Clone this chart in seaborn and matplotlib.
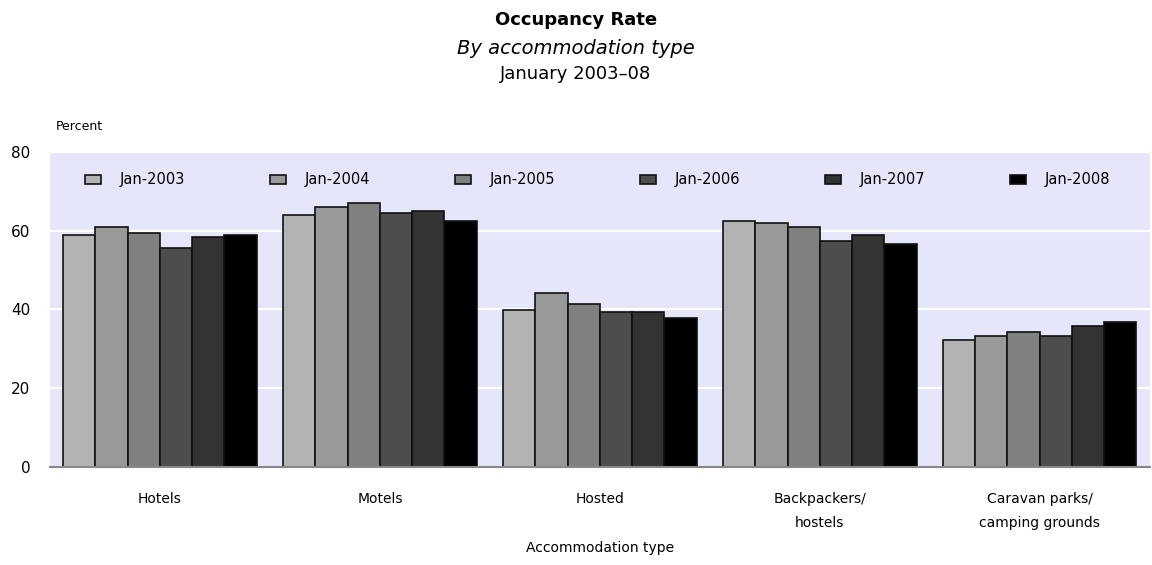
import pandas as pd
import matplotlib.pyplot as plt
import seaborn as sns

# Occupancy rate (%) by accommodation type, January of each year
categories = ['Hotels', 'Motels', 'Hosted', 'Backpackers/\nhostels',
              'Caravan parks/\ncamping grounds']
years = ['Jan-2003', 'Jan-2004', 'Jan-2005', 'Jan-2006', 'Jan-2007', 'Jan-2008']
jan_2003 = [58.9, 64.1, 39.8, 62.5, 32.2]
jan_2004 = [61.0, 66.0, 44.3, 62.0, 33.3]
jan_2005 = [59.4, 67.0, 41.4, 61.0, 34.3]
jan_2006 = [55.5, 64.5, 39.3, 57.4, 33.3]
jan_2007 = [58.4, 65.0, 39.3, 59.0, 35.8]
jan_2008 = [59.0, 62.5, 37.9, 56.6, 36.9]

series = [jan_2003, jan_2004, jan_2005, jan_2006, jan_2007, jan_2008]
rows = []
for yr, vals in zip(years, series):
    for cat, v in zip(categories, vals):
        rows.append({'type': cat, 'year': yr, 'rate': v})
df = pd.DataFrame(rows)

greys = ['#b3b3b3', '#999999', '#808080', '#4d4d4d', '#333333', '#000000']

sns.set_style('white')
plt.rcParams['font.family'] = ['DejaVu Sans']
plt.rcParams['text.color'] = 'black'
plt.rcParams['axes.labelcolor'] = 'black'
plt.rcParams['xtick.color'] = 'black'
plt.rcParams['ytick.color'] = 'black'

fig = plt.figure(figsize=(11.52, 5.65), dpi=100)
ax = fig.add_axes([0.0434, 0.1735, 0.9546, 0.5575])
ax.set_facecolor('#e6e6fa')

sns.barplot(data=df, x='type', y='rate', hue='year', hue_order=years,
            order=categories, palette=greys, width=0.88, edgecolor='#111111',
            linewidth=1.2, saturation=1, ax=ax)

ax.set_ylim(0, 80)
ax.set_yticks([0, 20, 40, 60, 80])
ax.yaxis.grid(True, color='white', linewidth=1.5)
ax.set_axisbelow(True)
for s in ['top', 'right', 'left']:
    ax.spines[s].set_visible(False)
ax.spines['bottom'].set_color('#888888')
ax.spines['bottom'].set_linewidth(1.5)
ax.tick_params(axis='both', length=0, labelsize=10)
ax.tick_params(axis='x', pad=18)
ax.tick_params(axis='y', pad=14, labelsize=11)
ax.set_xlabel('Accommodation type', fontsize=10, labelpad=8)
ax.set_ylabel('')
for lbl in ax.get_xticklabels():
    lbl.set_linespacing(1.9)

leg = ax.legend(loc='upper left', ncol=6, frameon=False, fontsize=10.5,
                bbox_to_anchor=(35 / 1100, 0.935), columnspacing=5.85,
                handlelength=1.1, handleheight=0.6, handletextpad=1.25,
                borderaxespad=0, borderpad=0)

fig.text(0.048, 0.77, 'Percent', fontsize=9)
fig.text(0.5, 0.955, 'Occupancy Rate', ha='center', fontsize=13, weight='bold')
fig.text(0.5, 0.905, 'By accommodation type', ha='center', fontsize=14, style='italic')
fig.text(0.5, 0.86, 'January 2003\u201308', ha='center', fontsize=13)

fig.savefig('out.png', dpi=100)
